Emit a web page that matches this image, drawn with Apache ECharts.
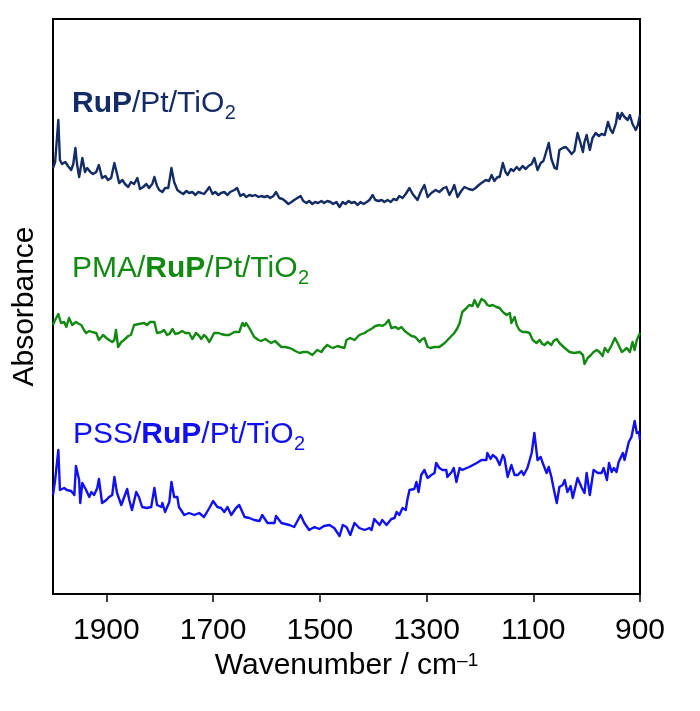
<!DOCTYPE html>
<html>
<head>
<meta charset="utf-8">
<script src="https://cdn.jsdelivr.net/npm/echarts@6/dist/echarts.min.js"></script>
<style>html,body{margin:0;padding:0;background:#fff;}#c{width:700px;height:711px;}</style>
</head>
<body>
<div id="c"></div>
<script>
// Tick labels on wavenumber axis
const xTicks = [1900, 1700, 1500, 1300, 1100, 900];

// Spectra: [wavenumber (cm-1), absorbance (arb., stacked offsets)]
const rupPtTiO2 = [
[2000,4.26],[1996,4.32],[1990,4.74],[1987,4.34],[1983,4.30],[1977,4.32],[1972,4.28],[1966,4.24],[1962,4.30],[1958,4.46],
[1955,4.30],[1951,4.17],[1945,4.36],[1940,4.22],[1936,4.26],[1930,4.22],[1925,4.20],[1919,4.22],[1914,4.29],[1908,4.16],
[1902,4.18],[1897,4.14],[1891,4.16],[1885,4.31],[1880,4.20],[1876,4.11],[1870,4.14],[1865,4.10],[1859,4.07],[1854,4.12],
[1848,4.10],[1842,4.16],[1837,4.05],[1831,4.07],[1825,4.10],[1820,4.06],[1814,4.10],[1810,4.17],[1805,4.08],[1801,4.04],
[1795,4.02],[1790,4.06],[1784,4.06],[1778,4.26],[1773,4.12],[1767,4.04],[1762,4.02],[1756,4.00],[1750,4.03],[1745,4.01],
[1739,4.02],[1733,3.99],[1728,4.02],[1722,4.01],[1717,4.00],[1711,4.04],[1707,4.07],[1701,4.00],[1696,4.02],[1690,3.99],
[1685,4.01],[1679,4.02],[1673,3.99],[1668,4.02],[1660,4.04],[1655,4.06],[1649,3.98],[1643,4.00],[1638,3.97],[1632,3.99],
[1626,3.98],[1621,3.99],[1615,3.97],[1610,3.98],[1604,3.97],[1598,3.98],[1593,3.96],[1587,3.98],[1582,4.02],[1576,3.96],
[1570,3.95],[1565,3.93],[1559,3.90],[1553,3.92],[1548,3.94],[1542,3.96],[1536,3.98],[1531,3.93],[1525,3.91],[1520,3.93],
[1514,3.90],[1509,3.92],[1503,3.91],[1497,3.93],[1492,3.91],[1486,3.93],[1480,3.92],[1475,3.90],[1469,3.92],[1463,3.87],
[1457,3.92],[1452,3.90],[1446,3.93],[1441,3.91],[1435,3.92],[1429,3.89],[1424,3.92],[1418,3.90],[1412,3.92],[1407,3.94],
[1401,3.99],[1396,3.94],[1390,3.93],[1384,3.94],[1379,3.92],[1373,3.94],[1367,3.92],[1362,3.95],[1356,3.94],[1351,3.98],
[1345,3.96],[1339,4.00],[1332,4.06],[1326,4.00],[1317,3.94],[1311,4.02],[1304,4.09],[1298,3.97],[1291,4.01],[1283,4.04],
[1276,4.02],[1268,4.06],[1263,4.07],[1257,3.99],[1251,4.05],[1248,4.09],[1242,3.97],[1235,4.03],[1229,4.07],[1221,4.05],
[1214,4.04],[1208,4.06],[1202,4.09],[1197,4.11],[1189,4.14],[1183,4.13],[1178,4.19],[1173,4.13],[1167,4.17],[1163,4.17],
[1157,4.31],[1152,4.22],[1148,4.19],[1142,4.25],[1137,4.23],[1131,4.27],[1126,4.24],[1120,4.28],[1114,4.25],[1109,4.28],
[1103,4.30],[1098,4.36],[1092,4.24],[1086,4.31],[1081,4.33],[1077,4.40],[1071,4.51],[1066,4.35],[1060,4.26],[1056,4.25],
[1051,4.44],[1045,4.46],[1039,4.47],[1034,4.44],[1028,4.40],[1023,4.43],[1017,4.61],[1011,4.50],[1007,4.42],[1004,4.52],
[1000,4.59],[994,4.44],[989,4.56],[983,4.61],[977,4.58],[972,4.60],[966,4.59],[960,4.72],[955,4.64],[951,4.61],
[945,4.71],[942,4.81],[938,4.75],[934,4.81],[929,4.77],[923,4.74],[919,4.79],[914,4.70],[908,4.64],[904,4.69],[900,4.79]
];

const pmaRupPtTiO2 = [
[2000,2.69],[1996,2.74],[1990,2.80],[1985,2.71],[1979,2.72],[1975,2.67],[1970,2.76],[1964,2.69],[1957,2.72],[1951,2.70],
[1947,2.69],[1942,2.64],[1938,2.61],[1932,2.63],[1927,2.62],[1919,2.61],[1914,2.54],[1906,2.59],[1900,2.56],[1895,2.54],
[1889,2.52],[1885,2.54],[1882,2.64],[1878,2.47],[1872,2.52],[1867,2.54],[1859,2.58],[1854,2.59],[1848,2.69],[1839,2.70],
[1829,2.71],[1824,2.69],[1818,2.72],[1810,2.72],[1805,2.61],[1797,2.62],[1792,2.64],[1786,2.59],[1782,2.60],[1776,2.65],
[1771,2.60],[1764,2.61],[1758,2.63],[1752,2.61],[1745,2.61],[1739,2.55],[1732,2.61],[1726,2.58],[1722,2.55],[1717,2.59],
[1713,2.57],[1707,2.52],[1701,2.58],[1698,2.61],[1690,2.61],[1685,2.60],[1677,2.59],[1670,2.59],[1660,2.62],[1651,2.62],
[1645,2.71],[1641,2.68],[1638,2.71],[1630,2.64],[1623,2.57],[1615,2.54],[1610,2.53],[1602,2.55],[1597,2.53],[1591,2.51],
[1584,2.53],[1578,2.50],[1572,2.47],[1565,2.47],[1557,2.46],[1552,2.45],[1546,2.43],[1538,2.41],[1531,2.42],[1523,2.42],
[1514,2.39],[1505,2.44],[1497,2.42],[1492,2.46],[1486,2.49],[1480,2.47],[1475,2.46],[1467,2.48],[1461,2.47],[1454,2.46],
[1450,2.54],[1443,2.56],[1435,2.54],[1426,2.59],[1416,2.61],[1411,2.63],[1407,2.64],[1401,2.66],[1396,2.68],[1388,2.69],
[1383,2.68],[1377,2.70],[1371,2.74],[1366,2.66],[1358,2.67],[1353,2.65],[1347,2.67],[1341,2.63],[1336,2.61],[1328,2.58],
[1321,2.57],[1313,2.52],[1308,2.55],[1304,2.56],[1298,2.47],[1293,2.46],[1285,2.47],[1276,2.47],[1266,2.51],[1257,2.56],
[1248,2.61],[1242,2.66],[1238,2.71],[1233,2.82],[1225,2.86],[1220,2.89],[1214,2.88],[1210,2.94],[1204,2.87],[1197,2.95],
[1191,2.93],[1186,2.89],[1182,2.88],[1176,2.89],[1169,2.87],[1163,2.86],[1157,2.82],[1150,2.79],[1144,2.81],[1141,2.71],
[1135,2.77],[1131,2.69],[1126,2.64],[1120,2.62],[1113,2.62],[1107,2.61],[1101,2.54],[1094,2.51],[1088,2.54],[1083,2.50],
[1079,2.49],[1073,2.52],[1066,2.49],[1062,2.53],[1056,2.55],[1051,2.51],[1041,2.46],[1032,2.42],[1023,2.41],[1013,2.42],
[1007,2.39],[1004,2.30],[998,2.36],[992,2.39],[987,2.42],[981,2.44],[976,2.42],[970,2.38],[966,2.46],[960,2.42],
[957,2.44],[953,2.49],[947,2.56],[942,2.51],[934,2.42],[929,2.44],[925,2.46],[919,2.42],[914,2.52],[910,2.44],
[906,2.54],[900,2.61]
];

const pssRupPtTiO2 = [
[2000,0.99],[1996,1.14],[1990,1.44],[1987,1.04],[1979,1.06],[1974,1.04],[1966,1.03],[1960,0.99],[1957,1.28],[1951,1.14],
[1949,0.91],[1945,1.11],[1938,1.04],[1932,0.97],[1928,1.02],[1923,0.99],[1917,1.06],[1914,1.15],[1908,0.91],[1900,0.94],
[1895,0.97],[1889,0.99],[1885,1.17],[1880,1.01],[1872,0.89],[1861,1.05],[1857,0.94],[1852,0.84],[1844,1.02],[1839,0.97],
[1833,0.87],[1824,0.86],[1816,0.87],[1810,1.06],[1805,0.89],[1797,0.87],[1795,0.91],[1790,0.82],[1782,0.92],[1778,1.12],
[1773,0.97],[1767,0.97],[1764,0.87],[1754,0.79],[1745,0.81],[1735,0.79],[1726,0.81],[1717,0.77],[1707,0.86],[1700,0.93],
[1692,0.87],[1685,0.86],[1679,0.82],[1673,0.87],[1666,0.79],[1657,0.86],[1651,0.89],[1641,0.77],[1632,0.76],[1623,0.74],
[1613,0.73],[1608,0.79],[1598,0.71],[1585,0.71],[1582,0.78],[1572,0.71],[1557,0.69],[1548,0.67],[1536,0.79],[1529,0.71],
[1520,0.64],[1510,0.67],[1501,0.65],[1492,0.68],[1482,0.69],[1473,0.66],[1463,0.58],[1457,0.69],[1450,0.67],[1443,0.59],
[1435,0.71],[1426,0.66],[1416,0.64],[1407,0.66],[1403,0.64],[1398,0.75],[1388,0.69],[1383,0.74],[1375,0.69],[1366,0.75],
[1360,0.76],[1356,0.82],[1351,0.79],[1345,0.86],[1339,0.84],[1336,0.94],[1332,1.04],[1323,1.05],[1319,1.12],[1315,1.02],
[1310,1.19],[1304,1.24],[1298,1.16],[1291,1.19],[1285,1.21],[1282,1.31],[1276,1.26],[1270,1.24],[1263,1.24],[1261,1.17],
[1253,1.22],[1249,1.26],[1244,1.12],[1238,1.26],[1233,1.24],[1225,1.26],[1220,1.27],[1206,1.31],[1197,1.34],[1188,1.34],
[1186,1.41],[1180,1.35],[1176,1.39],[1169,1.36],[1163,1.29],[1157,1.39],[1154,1.36],[1148,1.17],[1141,1.29],[1135,1.19],
[1129,1.19],[1122,1.23],[1118,1.19],[1111,1.26],[1103,1.41],[1098,1.61],[1092,1.34],[1086,1.37],[1083,1.32],[1075,1.21],
[1071,1.27],[1066,1.17],[1062,1.06],[1056,0.91],[1051,1.07],[1045,1.09],[1041,1.14],[1036,1.02],[1030,1.08],[1026,0.96],
[1017,1.16],[1009,1.06],[1004,1.01],[1000,1.21],[994,0.99],[987,1.24],[979,1.21],[972,1.21],[968,1.26],[962,1.14],
[958,1.31],[953,1.22],[949,1.26],[944,1.22],[940,1.32],[932,1.41],[929,1.34],[921,1.52],[916,1.57],[910,1.73],
[906,1.61],[902,1.62],[900,1.54]
];

// Series label text segments: [text, bold]
const labelParts = [
  [['RuP', true], ['/Pt/TiO', false]],
  [['PMA/', false], ['RuP', true], ['/Pt/TiO', false]],
  [['PSS/', false], ['RuP', true], ['/Pt/TiO', false]]
];
const labelSub = '2';
const seriesNames = ['RuP/Pt/TiO2', 'PMA/RuP/Pt/TiO2', 'PSS/RuP/Pt/TiO2'];
const colors = ['#142c66', '#128a12', '#1010f2'];

const FONT = '"Liberation Sans", Arial, Helvetica, sans-serif';
const labelPos = [[72, 89], [72, 254], [73, 420]];

const mctx = document.createElement('canvas').getContext('2d');
function textWidth(t, bold, size) {
  mctx.font = (bold ? 'bold ' : '') + size + 'px ' + FONT;
  return mctx.measureText(t).width;
}

const graphics = [];
labelParts.forEach((parts, i) => {
  const color = colors[i];
  const text = parts.map(p => '{' + (p[1] ? 'b' : 'n') + '|' + p[0] + '}').join('');
  const w = parts.reduce((s, p) => s + textWidth(p[0], p[1], 30), 0);
  const [lx, ly] = labelPos[i];
  graphics.push({
    type: 'text', left: lx, top: ly,
    style: {
      text: text,
      rich: {
        n: { fontSize: 30, fontFamily: FONT, fill: color, lineHeight: 30 },
        b: { fontSize: 30, fontFamily: FONT, fontWeight: 'bold', fill: color, lineHeight: 30 }
      }
    }
  });
  graphics.push({
    type: 'text', left: lx + w + 0.5, top: ly + 14,
    style: { text: labelSub, fontSize: 20, fontFamily: FONT, fill: color, lineHeight: 20 }
  });
});

const chart = echarts.init(document.getElementById('c'), null, { renderer: 'canvas' });
chart.setOption({
  animation: false,
  backgroundColor: '#fff',
  grid: { left: 53, right: 60, top: 19, bottom: 117, show: true, borderColor: '#000', borderWidth: 2, backgroundColor: 'transparent' },
  xAxis: {
    type: 'value', inverse: true, min: 900, max: 2000,
    axisLine: { show: true, lineStyle: { color: '#000', width: 2 } },
    axisTick: { show: true, customValues: xTicks, length: 8, inside: false, lineStyle: { color: '#000', width: 1.5 } },
    axisLabel: { customValues: xTicks, color: '#000', fontSize: 30, fontFamily: FONT, margin: 22, lineHeight: 30,
                 formatter: function (v) { return String(v); } },
    splitLine: { show: false },
    name: '{a|Wavenumber / cm}{p|\u20131}',
    nameLocation: 'middle', nameGap: 55,
    nameTextStyle: {
      rich: {
        a: { fontSize: 30, fontFamily: FONT, color: '#000', lineHeight: 30, verticalAlign: 'middle' },
        p: { fontSize: 19, fontFamily: FONT, color: '#000', lineHeight: 18, verticalAlign: 'top' }
      }
    }
  },
  yAxis: {
    type: 'value', min: 0, max: 5.75,
    axisLine: { show: true, lineStyle: { color: '#000', width: 2 } },
    axisTick: { show: false }, axisLabel: { show: false }, splitLine: { show: false },
    name: 'Absorbance', nameLocation: 'middle', nameGap: 13, nameRotate: 90,
    nameTextStyle: { fontSize: 30, fontFamily: FONT, color: '#000', lineHeight: 30 }
  },
  series: [rupPtTiO2, pmaRupPtTiO2, pssRupPtTiO2].map((d, i) => ({
    name: seriesNames[i], type: 'line', data: d, showSymbol: false, symbol: 'none',
    lineStyle: { color: colors[i], width: 2.4, join: 'round' }, itemStyle: { color: colors[i] }, z: 3
  })),
  graphic: graphics
});
</script>
</body>
</html>
